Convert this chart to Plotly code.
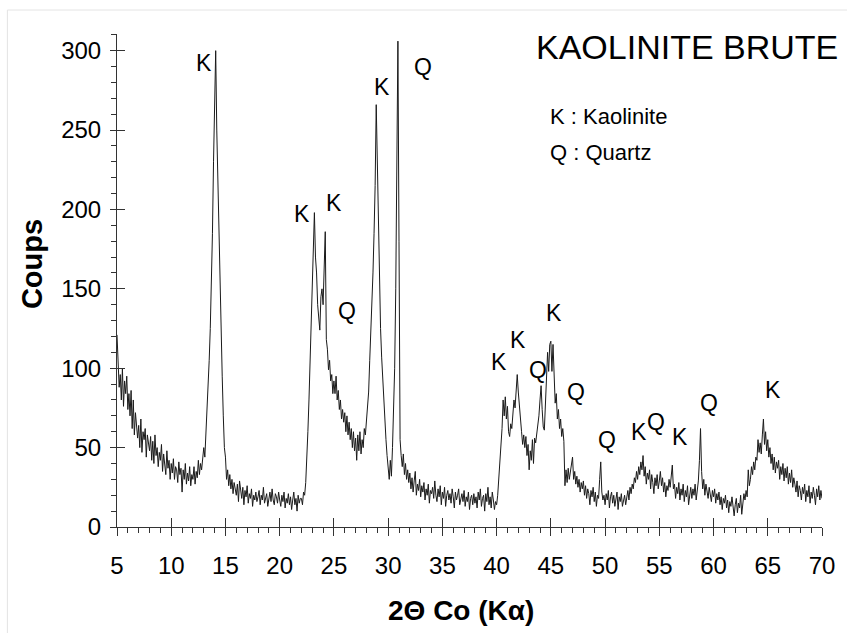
import numpy as np
import plotly.graph_objects as go

# ---------------- data ----------------
two_theta_start = 5.0
two_theta_step = 0.1

counts_05_15 = [
    121, 102, 88, 96, 80, 100, 76, 92, 84, 95,
    74, 84, 70, 86, 62, 80, 58, 72, 65, 56,
    64, 50, 68, 47, 60, 55, 62, 44, 58, 52,
    48, 57, 42, 54, 40, 58, 45, 50, 38, 47,
    42, 52, 35, 46, 40, 33, 48, 37, 42, 30,
    40, 34, 43, 30, 38, 36, 28, 41, 33, 37,
    22, 36, 30, 40, 27, 34, 29, 38, 26, 33,
    30, 38, 27, 35, 31, 42, 33, 40, 36, 46,
    50, 44, 58, 75, 88, 105, 125, 150, 185, 230,
    258, 300, 250, 215, 190, 145, 120, 95, 70, 50,
]
counts_15_25 = [
    44, 30, 36, 26, 33, 24, 30, 21, 28, 25,
    20, 27, 16, 29, 22, 18, 25, 14, 23, 19,
    26, 15, 21, 18, 24, 13, 20, 17, 22, 16,
    19, 23, 14, 20, 17, 25, 15, 19, 21, 13,
    18, 22, 16, 24, 17, 14, 21, 19, 15, 22,
    17, 13, 20, 16, 22, 12, 18, 15, 21, 14,
    19, 11, 17, 22, 14, 18, 10, 20, 15, 18,
    18, 14, 22, 20, 28, 42, 60, 80, 105, 130,
    165, 185, 198, 170, 160, 140, 130, 124, 145, 150,
    140, 165, 186, 118, 112, 99, 105, 92, 96, 84,
]
counts_25_35 = [
    92, 84, 95, 80, 86, 74, 80, 68, 74, 66,
    72, 60, 70, 58, 66, 55, 62, 50, 60, 48,
    56, 42, 58, 48, 60, 46, 55, 50, 62, 58,
    66, 72, 85, 105, 122, 140, 160, 185, 215, 266,
    230, 185, 150, 125, 107, 92, 78, 66, 55, 45,
    38, 30, 42, 32, 50, 72, 100, 150, 215, 306,
    180, 55, 45, 38, 46, 33, 40, 30, 36, 28,
    34, 24, 31, 22, 29, 35, 20, 27, 23, 30,
    19, 26, 22, 28, 17, 24, 20, 27, 15, 23,
    21, 25, 18, 29, 20, 16, 24, 19, 26, 14,
]
counts_35_45 = [
    22, 18, 25, 13, 20, 23, 17, 21, 15, 24,
    19, 12, 22, 17, 20, 24, 14, 18, 21, 16,
    23, 13, 19, 16, 22, 11, 18, 20, 14, 21,
    15, 19, 12, 22, 17, 24, 13, 18, 20, 10,
    21, 16, 25, 14, 19, 12, 22, 17, 11, 16,
    14, 20, 30, 38, 46, 62, 80, 70, 82, 68,
    76, 60, 57, 65, 62, 72, 80, 75, 88, 96,
    85, 78, 68, 60, 52, 58, 50, 57, 45, 52,
    36, 48, 42, 55, 40, 56, 53, 59, 62, 70,
    80, 89, 74, 63, 61, 78, 95, 110, 98, 115,
]
counts_45_55 = [
    117, 98, 115, 88, 78, 84, 68, 74, 62, 68,
    57, 62, 54, 26, 36, 28, 37, 30, 34, 38,
    44, 30, 35, 27, 32, 25, 30, 22, 28, 24,
    29, 20, 26, 18, 24, 21, 14, 23, 19, 25,
    16, 22, 13, 20, 18, 30, 41, 22, 17, 20,
    14, 21, 17, 23, 12, 19, 22, 15, 20, 13,
    18, 22, 11, 19, 16, 21, 13, 17, 20, 14,
    19, 23, 17, 25, 21, 27, 24, 31, 28, 35,
    30, 38, 33, 41, 36, 45, 32, 38, 27, 34,
    30, 36, 24, 33, 28, 21, 31, 26, 33, 24,
]
counts_55_70 = [
    29, 35, 26, 31, 22, 28, 19, 26, 23, 30,
    25, 32, 39, 24, 27, 18, 25, 21, 28, 17,
    24, 20, 27, 16, 23, 19, 26, 14, 22, 25,
    18, 24, 20, 27, 17, 23, 29, 42, 62, 35,
    24, 30, 20, 27, 22, 18, 25, 21, 16, 23,
    19, 24, 15, 21, 17, 22, 14, 19, 11, 18,
    15, 20, 12, 17, 9, 16, 13, 19, 10, 7,
    14, 18, 9, 15, 12, 20, 8, 16, 21, 17,
    23, 19, 36, 26, 30, 38, 33, 41, 36, 44,
    42, 55, 47, 53, 46, 58, 68, 52, 60, 48,
    55, 44, 50, 40, 46, 36, 44, 34, 41, 37,
    42, 30, 38, 33, 40, 29, 37, 31, 38, 27,
    34, 28, 36, 25, 31, 27, 22, 29, 19, 26,
    23, 17, 25, 21, 27, 16, 23, 19, 26, 15,
    22, 18, 25, 20, 14, 24, 19, 26, 17, 23,
    18,
]

counts = counts_05_15 + counts_15_25 + counts_25_35 + counts_35_45 + counts_45_55 + counts_55_70
two_theta = np.round(two_theta_start + two_theta_step * np.arange(len(counts)), 1)

# peak identification labels
peak_labels = ["K", "K", "Q", "K", "K", "Q", "K", "K", "Q", "K", "Q", "Q", "K", "Q", "K", "Q", "K"]
peak_label_x = [13.0, 29.4, 33.2, 22.1, 25.0, 26.2, 40.2, 42.0, 43.8, 45.3, 47.3, 50.15, 53.15, 54.7, 56.9, 59.6, 65.5]
peak_label_y = [292, 277, 290, 197, 204, 136, 104, 118, 99, 135, 85, 55, 60, 66, 57, 78, 86]

x_ticks_major = list(range(5, 71, 5))
y_ticks_major = [0, 50, 100, 150, 200, 250, 300]

# ---------------- layout geometry ----------------
W, H = 847, 633
L, R, T, B = 117, 16, 34, 106
PW, PH = W - L - R, H - T - B


def px_to_paper(px, py):
    return (px - L) / PW, (H - B - py) / PH


FONT = "Liberation Sans, Arial, sans-serif"
AXC = "#333333"

fig = go.Figure()
fig.add_trace(go.Scatter(
    x=two_theta, y=counts, mode="lines",
    line=dict(color="#1a1a1a", width=1),
    hoverinfo="skip", showlegend=False,
))

xr = [5, 70]
yr = [0, 310.5]

fig.update_layout(
    width=W, height=H,
    margin=dict(l=L, r=R, t=T, b=B, pad=0),
    paper_bgcolor="white", plot_bgcolor="white",
    showlegend=False,
    font=dict(family=FONT, color="black"),
    xaxis=dict(
        range=xr, showgrid=False, zeroline=False,
        showline=True, linecolor=AXC, linewidth=1,
        tickmode="array", tickvals=x_ticks_major,
        ticks="outside", ticklen=8, tickcolor=AXC, tickwidth=1,
        minor=dict(ticks="outside", dtick=1, tick0=5, ticklen=5, tickcolor=AXC, tickwidth=1, showgrid=False),
        tickfont=dict(family=FONT, size=24, color="black"),
        ticklabelstandoff=9,
    ),
    yaxis=dict(
        range=yr, showgrid=False, zeroline=False,
        showline=True, linecolor=AXC, linewidth=1,
        tickmode="array", tickvals=y_ticks_major,
        ticks="outside", ticklen=6, tickcolor=AXC, tickwidth=1,
        minor=dict(ticks="outside", dtick=10, tick0=0, ticklen=5, tickcolor=AXC, tickwidth=1, showgrid=False),
        tickfont=dict(family=FONT, size=24, color="black"),
        ticklabelstandoff=4,
    ),
    xaxis2=dict(
        range=xr, overlaying="x", anchor="y", side="bottom",
        showgrid=False, zeroline=False, showline=False,
        tickmode="array", tickvals=x_ticks_major, showticklabels=False,
        ticks="inside", ticklen=9, tickcolor=AXC, tickwidth=1,
    ),
    yaxis2=dict(
        range=yr, overlaying="y", anchor="x", side="left",
        showgrid=False, zeroline=False, showline=False,
        tickmode="array", tickvals=y_ticks_major, showticklabels=False,
        ticks="inside", ticklen=8, tickcolor=AXC, tickwidth=1,
    ),
)

# invisible helper trace so the overlay tick axes are drawn
fig.add_trace(go.Scatter(x=[], y=[], xaxis="x2", yaxis="y2", mode="lines",
                         hoverinfo="skip", showlegend=False))

annotations = []
for t, x, y in zip(peak_labels, peak_label_x, peak_label_y):
    annotations.append(dict(x=x, y=y, xref="x", yref="y", text=t, showarrow=False,
                            font=dict(family=FONT, size=23, color="black"),
                            xanchor="center", yanchor="middle"))

tx, ty = px_to_paper(694, 47)
annotations.append(dict(x=tx, y=ty, xref="paper", yref="paper", text="KAOLINITE BRUTE",
                        showarrow=False, font=dict(family=FONT, size=34, color="black"),
                        xanchor="center", yanchor="middle"))
kx, ky = px_to_paper(553, 117)
annotations.append(dict(x=kx, y=ky, xref="paper", yref="paper", text="K : Kaolinite",
                        showarrow=False, font=dict(family=FONT, size=22, color="black"),
                        xanchor="left", yanchor="middle"))
qx, qy = px_to_paper(553, 152)
annotations.append(dict(x=qx, y=qy, xref="paper", yref="paper", text="Q : Quartz",
                        showarrow=False, font=dict(family=FONT, size=22, color="black"),
                        xanchor="left", yanchor="middle"))
cx, cy = px_to_paper(31, 264)
annotations.append(dict(x=cx, y=cy, xref="paper", yref="paper", text="<b>Coups</b>",
                        showarrow=False, textangle=-90,
                        font=dict(family=FONT, size=29, color="black"),
                        xanchor="center", yanchor="middle"))
ax_, ay_ = px_to_paper(465, 610)
annotations.append(dict(x=ax_, y=ay_, xref="paper", yref="paper", text="<b>2Θ Co (Kα)</b>",
                        showarrow=False, font=dict(family=FONT, size=28, color="black"),
                        xanchor="center", yanchor="middle"))
fig.update_layout(annotations=annotations)

# faint frame of the original picture
fx0, fy1 = px_to_paper(6, 10)
fx1, fy0 = px_to_paper(860, 650)
fig.add_shape(type="rect", xref="paper", yref="paper", x0=fx0, x1=fx1, y0=fy0, y1=fy1,
              line=dict(color="#e4e4e4", width=1), fillcolor="rgba(0,0,0,0)", layer="below")

fig.write_html("out.html")
